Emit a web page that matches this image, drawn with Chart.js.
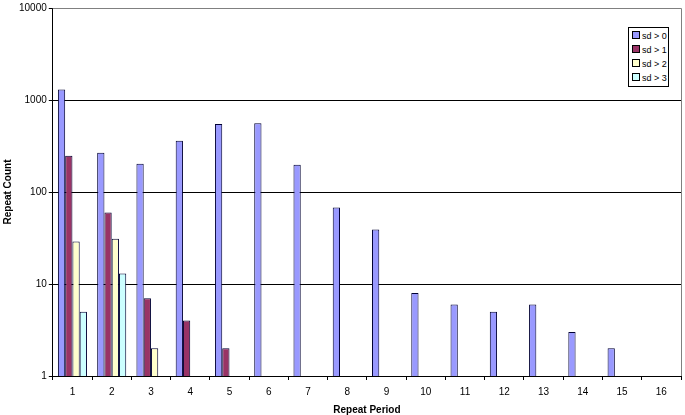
<!DOCTYPE html>
<html>
<head>
<meta charset="utf-8">
<script src="https://cdn.jsdelivr.net/npm/chart.js@4"></script>
<style>
    html, body { margin: 0; padding: 0; background: #fff; }
    #wrap { position: relative; width: 685px; height: 415px; }
    #legend {
        position: absolute; left: 628px; top: 27px; width: 36px;
        border: 1px solid #000; background: #fff; padding: 1px 0 1px 3px;
        font: 9px "Liberation Sans", Arial, sans-serif; color: #000;
    }
    #legend div { height: 14px; line-height: 14px; white-space: nowrap; }
    #legend span {
        display: inline-block; width: 6px; height: 6px; border: 1px solid #000;
        margin-right: 2px; vertical-align: 0px;
    }
</style>
</head>
<body>
<div id="wrap">
    <canvas id="chart" width="685" height="415"></canvas>
    <div id="legend"></div>
</div>
<script>
// 반복 주기 (카테고리)
const periods = ['1', '2', '3', '4', '5', '6', '7', '8', '9', '10', '11', '12', '13', '14', '15', '16'];
// 시리즈 값
const sd0 = [1300, 267, 203, 360, 550, 560, 198, 68, 39, 8, 6, 5, 6, 3, 2, null];
const sd1 = [247, 60, 7, 4, 2, null, null, null, null, null, null, null, null, null, null, null];
const sd2 = [29, 31, 2, null, null, null, null, null, null, null, null, null, null, null, null, null];
const sd3 = [5, 13, null, null, null, null, null, null, null, null, null, null, null, null, null, null];
const seriesNames = ['sd > 0', 'sd > 1', 'sd > 2', 'sd > 3'];
const yTicks = [1, 10, 100, 1000, 10000];

const colors = ['#9999FF', '#993366', '#FFFFCC', '#CCFFFF'];
const font = { family: '"Liberation Sans", Arial, sans-serif', size: 10 };

const datasets = [sd0, sd1, sd2, sd3].map((values, i) => ({
    label: seriesNames[i],
    data: values,
    backgroundColor: colors[i],
    borderColor: '#000033',
    borderWidth: 1,
    borderSkipped: 'bottom',
    barPercentage: 1,
    categoryPercentage: 0.74
}));

// 그래프 오른쪽/위 테두리
const frame = {
    id: 'frame',
    afterDraw(chart) {
        const a = chart.chartArea, ctx = chart.ctx;
        ctx.save();
        ctx.strokeStyle = '#808080';
        ctx.lineWidth = 1;
        ctx.beginPath();
        ctx.moveTo(a.left, a.top + 0.5);
        ctx.lineTo(a.right + 0.5, a.top + 0.5);
        ctx.lineTo(a.right + 0.5, a.bottom);
        ctx.stroke();
        ctx.restore();
    }
};

new Chart(document.getElementById('chart'), {
    type: 'bar',
    data: { labels: periods, datasets: datasets },
    options: {
        responsive: false,
        animation: false,
        layout: { padding: { top: 5, right: 4, left: 2, bottom: -1 } },
        plugins: {
            legend: { display: false },
            tooltip: { enabled: false }
        },
        scales: {
            x: {
                grid: {
                    offset: true,
                    drawOnChartArea: false,
                    color: '#000',
                    tickLength: 4
                },
                border: { color: '#000' },
                ticks: { color: '#000', font: font, padding: 6 },
                title: {
                    display: true, text: 'Repeat Period', color: '#000',
                    font: { family: font.family, size: 10, weight: 'bold' },
                    padding: { top: 0, bottom: 0 }
                }
            },
            y: {
                type: 'logarithmic',
                min: 1,
                max: 10000,
                afterBuildTicks(scale) {
                    scale.ticks = yTicks.map(v => ({ value: v }));
                },
                grid: {
                    color: ctx => (ctx.tick && ctx.tick.value === 10000) ? '#808080' : '#000',
                    tickColor: '#000',
                    tickLength: 4
                },
                border: { color: '#000' },
                ticks: {
                    color: '#000', font: font, padding: 2,
                    callback: v => String(v)
                },
                title: {
                    display: true, text: 'Repeat Count', color: '#000',
                    font: { family: font.family, size: 10, weight: 'bold' },
                    padding: { top: 0, bottom: 3 }
                }
            }
        }
    },
    plugins: [frame]
});

// 범례
const legendEl = document.getElementById('legend');
seriesNames.forEach((name, i) => {
    const row = document.createElement('div');
    row.innerHTML = '<span style="background:' + colors[i] + '"></span>' + name;
    legendEl.appendChild(row);
});
</script>
</body>
</html>
